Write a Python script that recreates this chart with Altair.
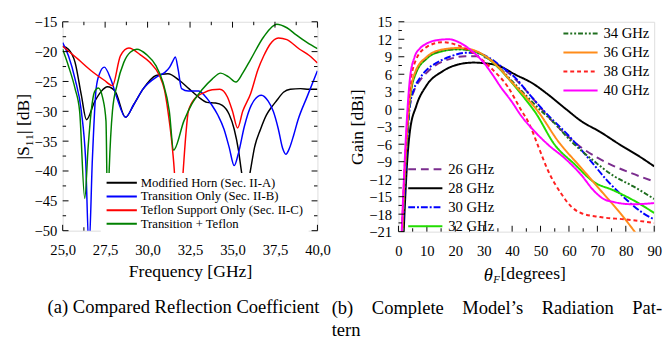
import altair as alt
import pandas as pd

# ---------------- (a) reflection coefficient ----------------
s11_names = ["Modified Horn (Sec. II-A)", "Transition Only (Sec. II-B)",
             "Teflon Support Only (Sec. II-C)", "Transition + Teflon"]
s11_colors = ["#000000", "#0000ff", "#ff0000", "#008000"]

horn_f = [25.0, 25.34, 25.73, 26.1, 26.4, 26.88, 27.26, 27.64, 28.1, 28.7, 29.18, 29.75, 30.5, 31.2,
          31.86, 32.43, 33.0, 33.5, 34.0, 34.4, 34.8, 35.1, 35.35, 35.55, 35.8, 36.05, 36.3, 36.65,
          37.0, 37.3, 37.6, 38.0, 38.4, 39.0, 39.5, 40.0]
horn_v = [-19.1, -19.6, -21.8, -27.3, -31.4, -28.4, -26.7, -25.9, -26.7, -31.0, -28.9, -26.2, -24.0, -23.7,
          -24.8, -26.2, -27.6, -28.5, -28.6, -29.0, -30.5, -33.0, -36.5, -40.5, -44.0, -40.0, -36.0, -33.0,
          -30.6, -29.3, -28.2, -26.8, -26.3, -26.2, -26.3, -26.3]

trans_f = [25.0, 25.34, 25.73, 26.1, 26.35, 26.55, 26.75, 26.97, 27.17, 27.45, 27.83, 28.2, 28.7, 29.18,
           29.75, 30.5, 31.0, 31.3, 31.5, 31.63, 31.8, 32.0, 32.4, 33.0, 33.4, 33.77, 34.15, 34.5, 34.8,
           35.1, 35.35, 35.7, 36.1, 36.7, 37.1, 37.4, 37.7, 37.95, 38.14, 38.35, 38.6, 38.85, 39.4, 40.0]
trans_v = [-18.5, -20.7, -24.6, -30.0, -38.0, -53.0, -38.0, -26.2, -23.7, -22.6, -24.6, -27.8, -31.0, -28.9,
           -26.2, -24.3, -23.5, -22.6, -21.5, -20.9, -23.0, -26.2, -26.6, -26.6, -27.5, -28.9, -30.7, -33.0, -36.0,
           -39.1, -37.0, -32.5, -29.0, -27.3, -28.3, -30.0, -33.0, -36.2, -37.2, -36.2, -34.0, -31.5, -27.5, -23.2]

teflon_f = [25.0, 25.92, 26.68, 27.45, 27.93, 28.4, 28.9, 29.56, 30.13, 30.7, 31.0, 31.2, 31.4, 31.57,
            31.8, 32.1, 32.25, 32.4, 32.8, 33.3, 33.8, 34.25, 34.7, 35.0, 35.3, 35.6, 36.07, 36.5, 36.84,
            37.2, 37.7, 38.2, 38.95, 39.5, 40.0]
teflon_v = [-19.1, -21.3, -23.2, -24.8, -25.7, -20.7, -19.4, -20.5, -21.8, -24.0, -26.5, -30.0, -34.5, -39.8,
            -52.0, -39.8, -34.0, -30.0, -27.8, -26.9, -26.4, -26.3, -27.6, -30.0, -32.8, -30.0, -27.0, -23.0, -20.7,
            -18.8, -17.7, -18.0, -19.6, -20.6, -21.9]

both_f = [25.0, 25.34, 25.73, 26.0, 26.3, 26.5, 26.68, 26.88, 27.1, 27.36, 27.55, 27.65, 27.74, 27.93,
          28.2, 28.6, 28.98, 29.37, 29.94, 30.5, 30.9, 31.28, 31.53, 32.14, 32.6, 33.2, 33.8, 34.3, 34.75,
          35.2, 35.6, 36.07, 36.84, 37.6, 38.2, 38.75, 39.4, 40.0]
both_v = [-19.6, -22.4, -26.2, -30.0, -44.6, -36.0, -30.0, -26.7, -26.1, -27.8, -31.6, -48.0, -39.8, -30.0,
          -25.6, -21.8, -20.1, -19.6, -20.5, -22.4, -25.1, -30.0, -36.5, -31.6, -28.8, -26.4, -24.6, -23.6, -24.2,
          -25.1, -23.6, -21.3, -17.5, -15.4, -16.0, -17.2, -18.5, -19.5]

x_major_a = [25.0, 27.5, 30.0, 32.5, 35.0, 37.5, 40.0]
x_minor_a = [26.25, 28.75, 31.25, 33.75, 36.25, 38.75]
y_major_a = [-50, -45, -40, -35, -30, -25, -20, -15]
y_minor_a = [-47.5, -42.5, -37.5, -32.5, -27.5, -22.5, -17.5]

# ---------------- (b) radiation pattern ----------------
grp1 = ["26 GHz", "28 GHz", "30 GHz", "32 GHz"]
grp2 = ["34 GHz", "36 GHz", "38 GHz", "40 GHz"]
grp1_colors = ["#7b2d8e", "#000000", "#0000ff", "#22dd00"]
grp2_colors = ["#1f6e1f", "#ff8c1a", "#ff2020", "#ff00ff"]
grp1_dash = [[8, 5], [1, 0], [7, 2, 2, 2], [1, 0]]
grp2_dash = [[5, 2, 2, 2, 2, 2], [1, 0], [4, 3], [1, 0]]

g26_t = [1.5, 2.2, 3.0, 4.0, 5.5, 7.5, 10, 13, 18, 23.5, 28, 32, 36, 41, 46, 51, 55, 60, 65, 70, 75.6, 81.3, 90]
g26_v = [-21.5, -14.5, -6.5, 0.5, 3.2, 4.9, 6.3, 7.5, 8.6, 9.1, 9.1, 8.6, 7.3, 5.2, 2.6, -0.3, -2.5, -4.8,
         -6.8, -8.3, -9.7, -10.85, -12.4]
g28_t = [1.8, 2.5, 3.0, 4.0, 6.3, 9.7, 15.5, 21.2, 26.4, 30, 35, 41.3, 47, 52.7, 59, 64.2, 71, 78, 84.8, 90]
g28_v = [-21.5, -14.0, -9.5, -3.9, 0.6, 3.95, 6.5, 7.7, 8.0, 7.9, 7.5, 5.9, 4.5, 2.5, 0.0, -2.0, -3.9,
         -6.1, -8.1, -9.8]
g30_t = [1.5, 2.2, 3.0, 4.0, 5.5, 7.5, 10, 13.2, 18, 24, 28, 32, 36, 41.3, 46, 51.6, 60.8, 67.7, 73.4, 79.1, 86, 90]
g30_v = [-21.5, -14.0, -6.0, 0.5, 3.5, 5.3, 6.8, 7.9, 9.0, 9.7, 9.6, 8.8, 7.4, 5.3, 2.6, -0.5, -5.0, -8.9,
         -12.2, -15.0, -17.8, -18.9]
g32_t = [1.3, 2.0, 3.0, 4.0, 6.0, 10, 15, 21, 26, 30, 35, 40, 45, 48.1, 55, 61.9, 68.8, 75.6, 83.7, 90]
g32_v = [-21.5, -13.5, -4.5, 1.5, 6.0, 8.7, 9.9, 10.3, 10.0, 9.2, 7.2, 4.5, 1.5, -0.5, -6.1, -9.4, -12.5,
         -13.9, -15.9, -17.8]
g34_t = [1.3, 2.0, 3.0, 4.0, 6.0, 10, 15, 21, 26, 30, 35, 40, 45, 50, 53.9, 60.8, 68.8, 75.6, 82.5, 90]
g34_v = [-21.5, -13.5, -4.5, 1.7, 6.2, 8.8, 10.0, 10.3, 10.0, 9.3, 7.4, 4.8, 2.3, -0.2, -1.9, -5.5, -8.9,
         -11.4, -13.2, -15.4]
g36_t = [1.3, 2.0, 3.0, 4.0, 6.0, 10, 15, 21, 26, 30, 35, 40, 45, 49.3, 56.2, 64.2, 71.1, 78, 83.1, 86]
g36_v = [-21.5, -13.0, -4.0, 2.0, 6.5, 9.0, 10.2, 10.5, 10.2, 9.3, 7.3, 4.6, 2.0, -0.5, -5.5, -10.0, -13.9,
         -17.8, -21.0, -23.0]
g38_t = [1.2, 2.0, 3.0, 4.0, 6.0, 10, 15.5, 21.2, 27, 32.7, 38.4, 43, 46, 49.3, 52.7, 57.3, 60.8, 64.2, 71,
         80, 90]
g38_v = [-21.5, -12.0, -3.0, 3.5, 8.3, 10.7, 11.5, 10.9, 9.4, 7.0, 3.9, 0.0, -2.5, -6.5, -10.6, -14.5, -16.7,
         -17.8, -18.5, -18.9, -19.5]
g40_t = [1.1, 2.0, 2.9, 4.0, 5.7, 7.5, 9.7, 13, 17.8, 22, 27, 30, 33, 36, 40, 43, 48.1, 52.7, 58.5, 64.2,
         68.8, 72.2, 75.6, 82.5, 90]
g40_v = [-21.5, -11.0, -2.2, 5.1, 9.0, 10.4, 11.2, 11.8, 12.0, 11.3, 9.5, 8.0, 6.0, 3.8, 1.2, -1.0, -3.9,
         -6.1, -8.4, -11.2, -14.0, -15.4, -15.9, -16.3, -16.1]

x_major_b = [0, 10, 20, 30, 40, 50, 60, 70, 80, 90]
x_minor_b = [5, 15, 25, 35, 45, 55, 65, 75, 85]
y_major_b = [-21, -18, -15, -12, -9, -6, -3, 0, 3, 6, 9, 12, 15]
y_minor_b = [-19.5, -16.5, -13.5, -10.5, -7.5, -4.5, -1.5, 1.5, 4.5, 7.5, 10.5, 13.5]

SERIF = "Liberation Serif, Times New Roman, Times, serif"
WA, HA = 261, 214
WB, HB = 262, 215
NB = "\u00a0"


def long_df(names, fs, vs):
    rows = []
    for n, f, v in zip(names, fs, vs):
        for i, (a, b) in enumerate(zip(f, v)):
            rows.append({"series": n, "x": a, "y": b, "i": i})
    return pd.DataFrame(rows)


df_a = long_df(s11_names, [horn_f, trans_f, teflon_f, both_f], [horn_v, trans_v, teflon_v, both_v])
df_b1 = long_df(grp1, [g26_t, g28_t, g30_t, g32_t], [g26_v, g28_v, g30_v, g32_v])
df_b2 = long_df(grp2, [g34_t, g36_t, g38_t, g40_t], [g34_v, g36_v, g38_v, g40_v])


def tick_layers(xs, ys, xaxis, yaxis, xmaj, xmin, ymaj, ymin, W, H, mirror):
    layers = []
    for vals, L in ((xmaj, 6), (xmin, 3.5)):
        d = pd.DataFrame({"x": vals})
        layers.append(alt.Chart(d).mark_rule(color="black", strokeWidth=1).encode(
            x=alt.X("x:Q", scale=xs, axis=xaxis), y=alt.value(H), y2=alt.value(H - L)))
        if mirror:
            layers.append(alt.Chart(d).mark_rule(color="black", strokeWidth=1).encode(
                x=alt.X("x:Q", scale=xs, axis=xaxis), y=alt.value(0), y2=alt.value(L)))
    for vals, L in ((ymaj, 6), (ymin, 3.5)):
        d = pd.DataFrame({"y": vals})
        layers.append(alt.Chart(d).mark_rule(color="black", strokeWidth=1).encode(
            y=alt.Y("y:Q", scale=ys, axis=yaxis), x=alt.value(0), x2=alt.value(L)))
        if mirror:
            layers.append(alt.Chart(d).mark_rule(color="black", strokeWidth=1).encode(
                y=alt.Y("y:Q", scale=ys, axis=yaxis), x=alt.value(W), x2=alt.value(W - L)))
    return layers


axis_common = dict(domain=False, ticks=False, grid=False, labelFont=SERIF, labelFontSize=15,
                   labelColor="black", titleFont=SERIF, titleFontSize=18, titleFontWeight="normal",
                   titleColor="black", labelFlush=False, labelOverlap=False)

# ----- chart (a)
xs_a = alt.Scale(domain=[25, 40], nice=False, zero=False)
ys_a = alt.Scale(domain=[-50, -15], nice=False, zero=False)
xaxis_a = alt.Axis(values=x_major_a, title="Frequency [GHz]",
                   labelExpr="replace(format(datum.value, '.1f'), '.', ',')",
                   labelPadding=12, titlePadding=6, **axis_common)
yaxis_a = alt.Axis(values=y_major_a, title="|S₁₁| [dB]", labelPadding=6, titlePadding=2, **axis_common)

lines_a = alt.Chart(df_a).mark_line(clip=True, strokeWidth=1.5, interpolate="monotone").encode(
    x=alt.X("x:Q", scale=xs_a, axis=xaxis_a),
    y=alt.Y("y:Q", scale=ys_a, axis=yaxis_a),
    color=alt.Color("series:N", sort=s11_names,
                    scale=alt.Scale(domain=s11_names, range=s11_colors),
                    legend=alt.Legend(title=None, orient="none", legendX=39, legendY=155,
                                      fillColor="white", symbolType="stroke", symbolSize=961,
                                      symbolStrokeWidth=2, labelFont=SERIF, labelFontSize=13,
                                      labelColor="black", clipHeight=10, rowPadding=1, padding=5,
                                      labelOffset=3, labelLimit=0)),
    detail="series:N",
    order="i:Q",
)

chart_a = alt.layer(lines_a, *tick_layers(xs_a, ys_a, xaxis_a, yaxis_a, x_major_a, x_minor_a,
                                          y_major_a, y_minor_a, WA, HA, True)).properties(
    width=WA, height=HA,
    title=alt.TitleParams(text="(a) Compared Reflection Coefficient", orient="bottom", anchor="start",
                          font=SERIF, fontSize=19, fontWeight="normal", color="black", offset=18, dx=34))

# ----- chart (b)
xs_b = alt.Scale(domain=[0, 90], nice=False, zero=False)
ys_b = alt.Scale(domain=[-21, 15], nice=False, zero=False)
xaxis_b = alt.Axis(values=x_major_b, title="[degrees]", labelPadding=12, titlePadding=7,
                   titleX=137.5, **axis_common)
yaxis_b = alt.Axis(values=y_major_b, title="Gain [dBi]", labelPadding=7, titlePadding=2, **axis_common)


def lines_b(df, names, colors, dashes, lx, ly):
    return alt.Chart(df).mark_line(clip=True, strokeWidth=2, interpolate="monotone").encode(
        x=alt.X("x:Q", scale=xs_b, axis=xaxis_b),
        y=alt.Y("y:Q", scale=ys_b, axis=yaxis_b),
        color=alt.Color("series:N", sort=names, scale=alt.Scale(domain=names, range=colors),
                        legend=alt.Legend(title=None, orient="none", legendX=lx, legendY=ly,
                                          symbolType="stroke", symbolSize=1225, symbolStrokeWidth=2,
                                          labelFont=SERIF, labelFontSize=15, labelColor="black",
                                          clipHeight=14, rowPadding=4.5, padding=0, labelOffset=5)),
        strokeDash=alt.StrokeDash("series:N", sort=names, scale=alt.Scale(domain=names, range=dashes),
                                  legend=None),
        detail="series:N",
        order="i:Q",
    )


l1 = lines_b(df_b1, grp1, grp1_colors, grp1_dash, 9, 144)
l2 = lines_b(df_b2, grp2, grp2_colors, grp2_dash, 168, 5)

theta_df = pd.DataFrame({"t": ["θ"]})
sub_df = pd.DataFrame({"t": ["F"]})
theta = alt.Chart(theta_df).mark_text(font=SERIF, fontStyle="italic", fontSize=19, color="black",
                                      align="center", baseline="middle").encode(
    text="t:N", x=alt.value(92), y=alt.value(HB + 45))
sub = alt.Chart(sub_df).mark_text(font=SERIF, fontStyle="italic", fontSize=11, color="black",
                                  align="center", baseline="middle").encode(
    text="t:N", x=alt.value(100.5), y=alt.value(HB + 50))

cap_b1 = "(b)" + NB * 4 + "Complete" + NB * 4 + "Model’s" + NB * 4 + "Radiation" + NB * 4 + "Pat-"
chart_b = alt.layer(l1, l2, theta, sub,
                    *tick_layers(xs_b, ys_b, xaxis_b, yaxis_b, x_major_b, x_minor_b, y_major_b, y_minor_b,
                                 WB, HB, False)
                    ).resolve_scale(color="independent", strokeDash="independent").properties(
    width=WB, height=HB,
    title=alt.TitleParams(text=[cap_b1, "tern"],
                          orient="bottom", anchor="start", font=SERIF, fontSize=19, fontWeight="normal",
                          color="black", offset=14, dx=-18, lineHeight=23))

chart = alt.hconcat(chart_a, chart_b, spacing=83, bounds="flush").properties(
    padding={"left": 6, "top": 2, "right": 0, "bottom": 0}
).configure_view(stroke="black", strokeWidth=1).configure(background="white")

chart.save("out.html", embed_options={"renderer": "svg", "actions": False})
